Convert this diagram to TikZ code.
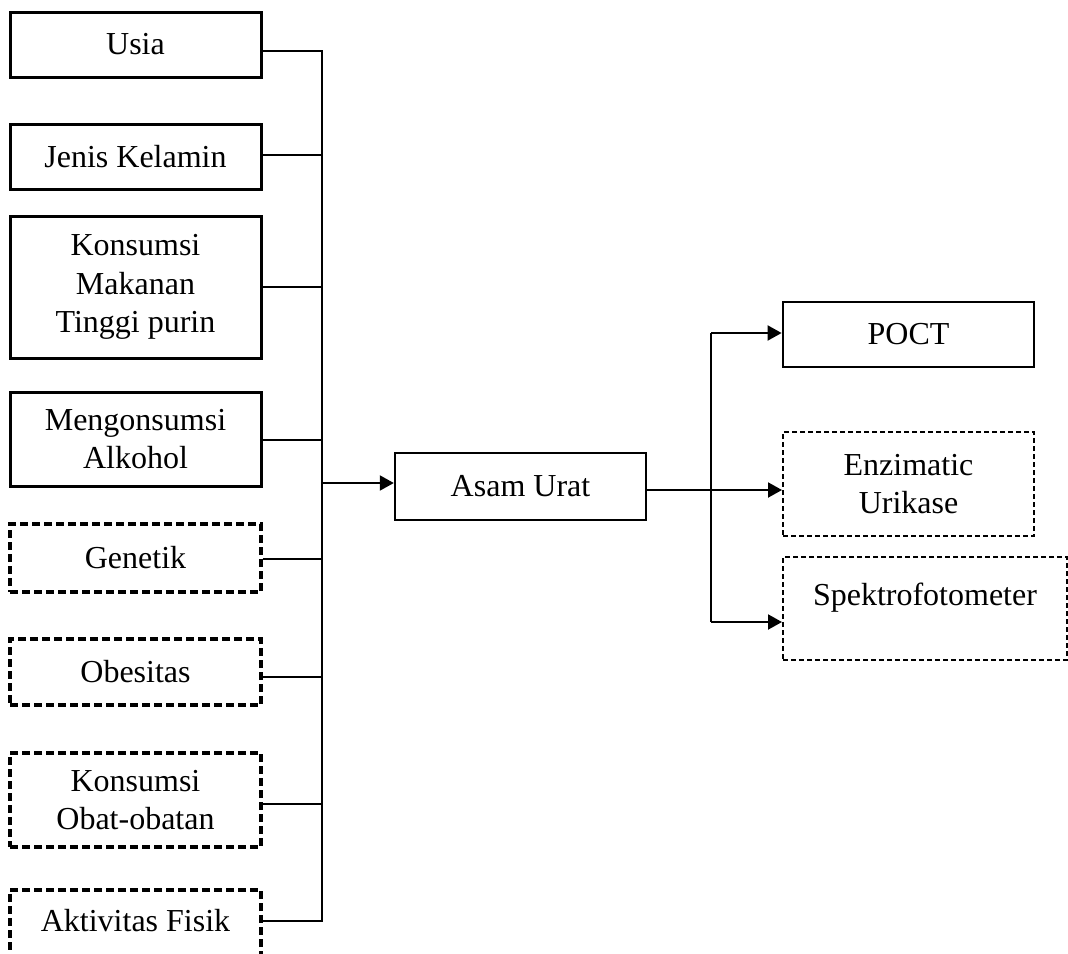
\documentclass[tikz,border=0pt]{standalone}
\usepackage{fontspec}
\setmainfont{Liberation Serif}
\usetikzlibrary{arrows.meta}
\begin{document}
\begin{tikzpicture}[x=1pt,y=-1pt,
  lbl/.style={align=center, inner sep=0pt, font=\fontsize{32}{38.5}\selectfont},
  sbox/.style={lbl, draw, line width=3pt, rectangle, minimum width=251pt},
  dbox/.style={sbox, line width=3.2pt, dash pattern=on 8pt off 4pt},
  rsbox/.style={lbl, draw, line width=2.4pt, rectangle},
  rdbox/.style={rsbox, line width=2pt, dash pattern=on 5pt off 3pt},
  conn/.style={line width=2pt},
  arr/.style={conn, -{Triangle[length=14pt,width=15pt]}}
]
\useasboundingbox (0,0) rectangle (1068,953);
\clip (0,0) rectangle (1068,953);

% left column
\node[sbox, minimum height=65pt] (usia) at (135.5,44.5) {Usia};
\node[sbox, minimum height=65pt] (jk) at (135.5,156.5) {Jenis Kelamin};
\node[sbox, minimum height=142pt] (kmt) at (135.5,287) {Konsumsi\\Makanan\\Tinggi purin};
\node[sbox, minimum height=94pt] (alk) at (135.5,439) {Mengonsumsi\\Alkohol};
\node[dbox, minimum height=68pt] (gen) at (135.5,558) {Genetik};
\node[dbox, minimum height=66pt] (obe) at (135.5,672) {Obesitas};
\node[dbox, minimum height=94pt] (obat) at (135.5,800) {Konsumsi\\Obat-obatan};
\node[dbox, minimum height=94pt] (akt) at (135.5,937) {};
\node[lbl] (aktt) at (135.5,921) {Aktivitas Fisik};

% centre
\node[rsbox, minimum width=251pt, minimum height=67pt] (asam) at (520.5,486.5) {Asam Urat};

% right column
\node[rsbox, line width=2.8pt, minimum width=251pt, minimum height=65pt] (poct) at (908.5,334.5) {POCT};
\node[rdbox, minimum width=251pt, minimum height=104pt] (enz) at (908.5,484) {Enzimatic\\Urikase};
\node[rdbox, minimum width=284pt, minimum height=103pt] (spek) at (925,608.5) {};
\node[lbl] (spekt) at (925,598) {Spektrofotometer};

% left bus
\coordinate (b1) at (322,51);
\coordinate (b2) at (322,155);
\coordinate (b3) at (322,287);
\coordinate (b4) at (322,440);
\coordinate (b5) at (322,559);
\coordinate (b6) at (322,677);
\coordinate (b7) at (322,804);
\coordinate (b8) at (322,921);
\coordinate (bin) at (322,483);
\draw[conn] (usia.east |- b1) -- (b1);
\draw[conn] (jk.east |- b2) -- (b2);
\draw[conn] (kmt.east |- b3) -- (b3);
\draw[conn] (alk.east |- b4) -- (b4);
\draw[conn] (gen.east |- b5) -- (b5);
\draw[conn] (obe.east |- b6) -- (b6);
\draw[conn] (obat.east |- b7) -- (b7);
\draw[conn] (akt.east |- b8) -- (b8);
\draw[conn, line cap=rect] (b1) -- (b8);
\draw[arr] (bin) -- (asam.west |- bin);

% right bus
\coordinate (r1) at (711,333);
\coordinate (r2) at (711,490);
\coordinate (r3) at (711,622);
\draw[conn] (asam.east |- r2) -- (r2);
\draw[conn] (r1) -- (r3);
\draw[arr] (r1) -- (poct.west |- r1);
\draw[arr] (r2) -- (enz.west |- r2);
\draw[arr] (r3) -- (spek.west |- r3);
\end{tikzpicture}
\end{document}
